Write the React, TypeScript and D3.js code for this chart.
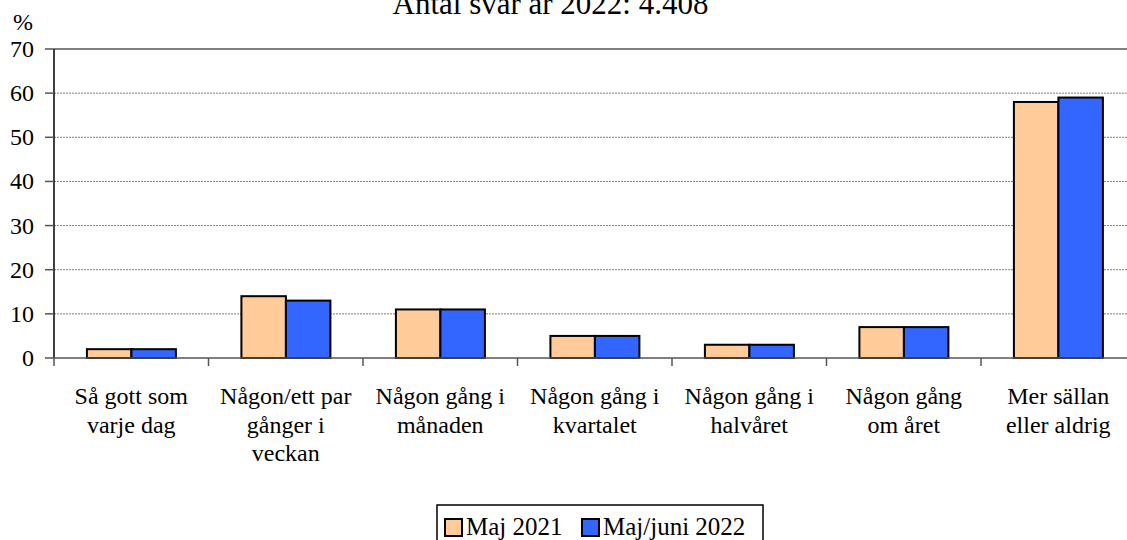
import React from "react";
import * as d3 from "d3";

const categories: string[][] = [
  ["Så gott som", "varje dag"],
  ["Någon/ett par", "gånger i", "veckan"],
  ["Någon gång i", "månaden"],
  ["Någon gång i", "kvartalet"],
  ["Någon gång i", "halvåret"],
  ["Någon gång", "om året"],
  ["Mer sällan", "eller aldrig"],
];
const series2021: number[] = [2, 14, 11, 5, 3, 7, 58];
const series2022: number[] = [2, 13, 11, 5, 3, 7, 59];
const seriesNames: string[] = ["Maj 2021", "Maj/juni 2022"];
const seriesColors: string[] = ["#FFCC99", "#3366FF"];
const yTicks: number[] = [0, 10, 20, 30, 40, 50, 60, 70];
const title = "Antal svar år 2022: 4.408";

const W = 1127;
const H = 540;
const mLeft = 54;
const mRight = 1135.5;
const mTop = 49;
const mBottom = 358;
const FONT = "'Liberation Serif', 'Times New Roman', serif";

export default function App() {
  const x = d3
    .scaleBand<number>()
    .domain(d3.range(categories.length))
    .range([mLeft, mRight]);
  const y = d3.scaleLinear().domain([0, 70]).range([mBottom, mTop]);
  const bw = x.bandwidth();
  const barW = bw * 0.288;
  const groupOff = bw * 0.213;
  const allSeries = [series2021, series2022];
  const T = (props: any) => <text {...props} style={{ fontFamily: FONT }} fill="#000" />;
  const legendX = [445, 582];

  return (
    <svg width={W} height={H} style={{ position: "absolute", left: 0, top: 0 }}>
      <rect x={0} y={0} width={W} height={H} fill="#fff" />
      <T x={550.5} y={13.5} textAnchor="middle" fontSize={31}>
        {title}
      </T>
      <T x={23} y={30} textAnchor="middle" fontSize={24}>
        %
      </T>
      {yTicks
        .filter((t) => t > 0 && t < 70)
        .map((t) => (
          <line
            key={"g" + t}
            x1={mLeft}
            x2={W}
            y1={y(t)}
            y2={y(t)}
            stroke="#808080"
            strokeWidth={1}
            strokeDasharray="2,1"
          />
        ))}
      <line x1={mLeft} x2={W} y1={y(70)} y2={y(70)} stroke="#808080" strokeWidth={2} />
      {allSeries.map((s, si) =>
        s.map((v, i) => (
          <rect
            key={si + "-" + i}
            x={(x(i) as number) + groupOff + si * barW}
            y={y(v)}
            width={barW}
            height={mBottom - y(v)}
            fill={seriesColors[si]}
            stroke="#000"
            strokeWidth={2}
          />
        ))
      )}
      <line x1={mLeft} x2={mLeft} y1={mTop} y2={mBottom} stroke="#000" strokeWidth={1.5} />
      {yTicks.map((t) => (
        <g key={"t" + t}>
          <line x1={mLeft - 9} x2={mLeft} y1={y(t)} y2={y(t)} stroke="#555" strokeWidth={1.5} />
          <T x={34} y={y(t) + 8} textAnchor="end" fontSize={24}>
            {t}
          </T>
        </g>
      ))}
      <line x1={mLeft} x2={W} y1={mBottom} y2={mBottom} stroke="#555" strokeWidth={1.5} />
      {d3.range(categories.length + 1).map((i) => {
        const xx = mLeft + i * bw;
        return (
          <line key={"xt" + i} x1={xx} x2={xx} y1={mBottom} y2={mBottom + 8} stroke="#555" strokeWidth={1.5} />
        );
      })}
      {categories.map((lines, i) =>
        lines.map((l, li) => (
          <T
            key={"c" + i + "-" + li}
            x={(x(i) as number) + bw / 2}
            y={404 + li * 28.5}
            textAnchor="middle"
            fontSize={24}
          >
            {l}
          </T>
        ))
      )}
      <rect x={437} y={505} width={326} height={40} fill="#fff" stroke="#000" strokeWidth={1.5} />
      {seriesNames.map((n, i) => (
        <g key={"l" + i}>
          <rect x={legendX[i]} y={519} width={17} height={17} fill={seriesColors[i]} stroke="#000" strokeWidth={2} />
          <T x={legendX[i] + 21} y={535} fontSize={25}>
            {n}
          </T>
        </g>
      ))}
    </svg>
  );
}
